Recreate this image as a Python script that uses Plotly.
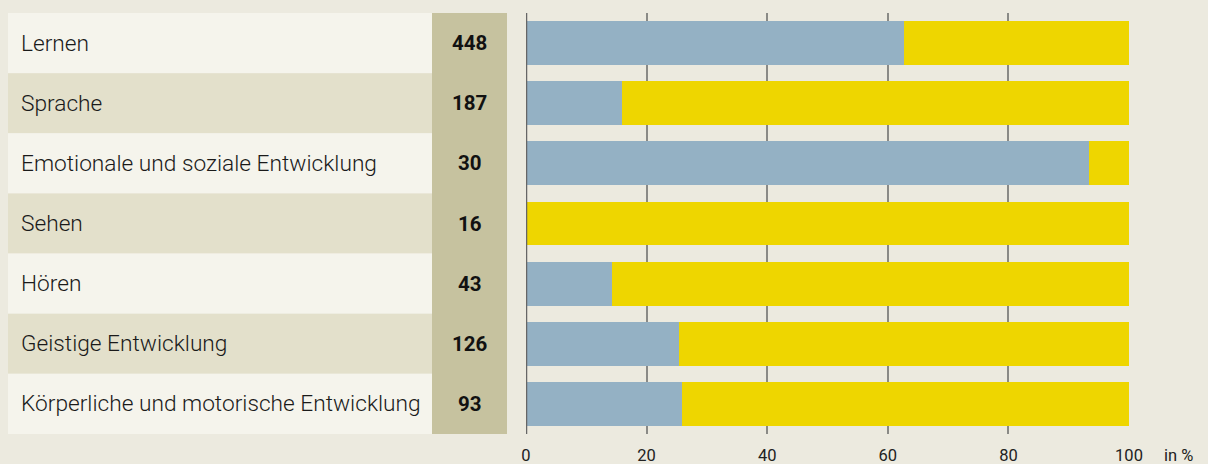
import plotly.graph_objects as go

categories = ["Lernen", "Sprache", "Emotionale und soziale Entwicklung", "Sehen",
              "Hören", "Geistige Entwicklung", "Körperliche und motorische Entwicklung"]
counts = [448, 187, 30, 16, 43, 126, 93]
share_blue = [62.7, 16.0, 93.3, 0.0, 14.3, 25.4, 25.8]
share_yellow = [37.3, 84.0, 6.7, 100.0, 85.7, 74.6, 74.2]
tick_values = [0, 20, 40, 60, 80, 100]

W, H = 1208, 464
BG = "#ECEADF"
LIGHT = "#F5F4EC"
DARK = "#E3E0CB"
TAN = "#C6C29F"
BLUE = "#94B1C4"
YELLOW = "#EED600"
FONT = "Roboto"

fig = go.Figure()
fig.add_trace(go.Bar(y=categories, x=share_blue, orientation="h", marker_color=BLUE,
                     marker_line_width=0, width=0.73, name="a", hoverinfo="x+y"))
fig.add_trace(go.Bar(y=categories, x=share_yellow, orientation="h", marker_color=YELLOW,
                     marker_line_width=0, width=0.73, name="b", hoverinfo="x+y"))

shapes = []
annotations = []
for i, (cat, n) in enumerate(zip(categories, counts)):
    shapes.append(dict(type="rect", xref="paper", yref="y", x0=8 / W, x1=432 / W,
                       y0=i - 0.5, y1=i + 0.5, fillcolor=LIGHT if i % 2 == 0 else DARK,
                       line_width=0, layer="below"))
    annotations.append(dict(xref="paper", yref="y", x=19 / W, y=cat, text=cat,
                            showarrow=False, xanchor="left", yanchor="middle",
                            font=dict(family=FONT, size=22.7, color="#1a1a1a", weight=300)))
    annotations.append(dict(xref="paper", yref="y", x=469.5 / W, y=cat, text=f"<b>{n}</b>",
                            showarrow=False, xanchor="center", yanchor="middle",
                            font=dict(family=FONT, size=20.5, color="#111111")))
shapes.append(dict(type="rect", xref="paper", yref="y", x0=432 / W, x1=507 / W,
                   y0=-0.5, y1=len(categories) - 0.5, fillcolor=TAN, line_width=0, layer="below"))

annotations.append(dict(xref="paper", yref="paper", x=1162 / W, y=0, yshift=-21, text="in %",
                        showarrow=False, xanchor="left", yanchor="middle",
                        font=dict(family=FONT, size=16.5, color="#222222")))

fig.update_layout(
    width=W, height=H,
    barmode="stack",
    showlegend=False,
    paper_bgcolor=BG,
    plot_bgcolor=BG,
    margin=dict(l=0, r=0, t=13, b=30, pad=0, autoexpand=False),
    shapes=shapes,
    annotations=annotations,
    xaxis=dict(domain=[526 / W, 1129 / W], range=[0, 100], tickvals=tick_values,
               showgrid=True, gridcolor="#8a8a86", gridwidth=2,
               zeroline=False, showline=False, ticks="", ticklabelstandoff=9,
               tickfont=dict(family=FONT, size=16.5, color="#222222"), fixedrange=True,
               automargin=False),
    yaxis=dict(categoryorder="array", categoryarray=categories, autorange="reversed",
               showticklabels=False, showgrid=False, zeroline=False, fixedrange=True,
               automargin=False),
)
fig.add_shape(type="line", xref="x", yref="paper", x0=0, x1=0, y0=0, y1=1,
              line=dict(color="#666666", width=2.5), layer="above")

fig.write_html(
    "out.html",
    config={"displayModeBar": False},
    post_script=("document.documentElement.style.margin='0';"
                 "document.documentElement.style.overflow='hidden';"
                 "document.body.style.margin='0';"
                 "document.body.style.overflow='hidden';"
                 "document.body.style.background='#ECEADF';"),
)
